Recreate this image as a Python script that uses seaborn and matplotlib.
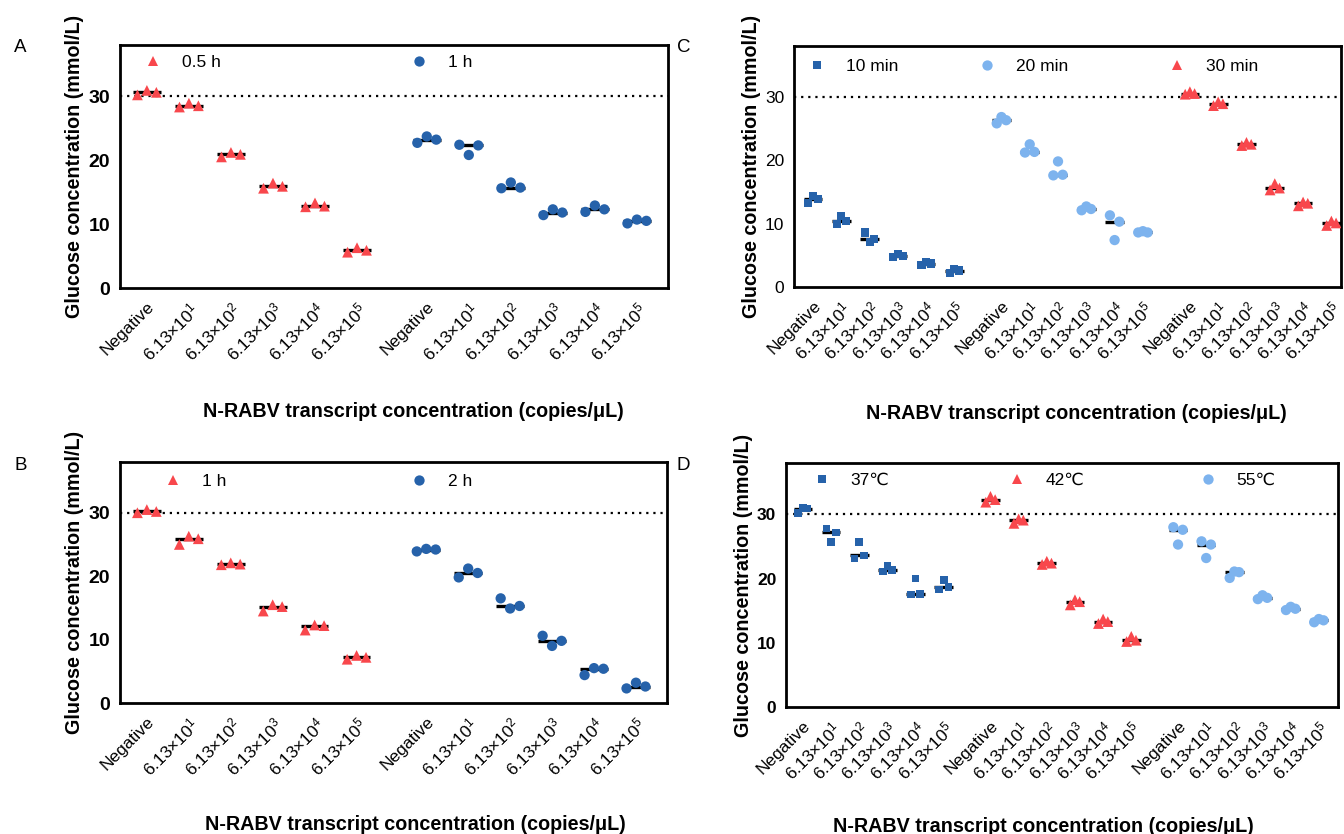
import numpy as np
import pandas as pd
import matplotlib
matplotlib.use("Agg")
import matplotlib.pyplot as plt
from matplotlib.lines import Line2D
import seaborn as sns

sns.set_style("white")
plt.rcParams["font.family"] = ["Liberation Sans", "DejaVu Sans"]
plt.rcParams["mathtext.fontset"] = "custom"
plt.rcParams["mathtext.rm"] = "Liberation Sans"
plt.rcParams["mathtext.it"] = "Liberation Sans:italic"
plt.rcParams["mathtext.bf"] = "Liberation Sans:bold"
for key in ["text.color", "axes.labelcolor", "xtick.color", "ytick.color",
            "axes.edgecolor"]:
    plt.rcParams[key] = "black"

# ---------------- data ----------------
tick_labels = ["Negative", r"6.13×10$^{1}$", r"6.13×10$^{2}$", r"6.13×10$^{3}$",
               r"6.13×10$^{4}$", r"6.13×10$^{5}$"]

a_series = ["0.5 h", "1 h"]
a_05h = [[30.2, 30.9, 30.6], [28.3, 28.9, 28.5], [20.5, 21.2, 20.9],
         [15.6, 16.4, 15.9], [12.7, 13.3, 12.8], [5.6, 6.3, 5.9]]
a_1h = [[22.7, 23.7, 23.2], [22.4, 20.8, 22.3], [15.6, 16.5, 15.7],
        [11.4, 12.3, 11.8], [11.9, 12.9, 12.3], [10.1, 10.7, 10.5]]

b_series = ["1 h", "2 h"]
b_1h = [[30.0, 30.5, 30.2], [25.0, 26.3, 25.9], [21.8, 22.1, 21.9],
        [14.5, 15.5, 15.2], [11.5, 12.3, 12.2], [6.9, 7.5, 7.2]]
b_2h = [[23.9, 24.3, 24.2], [19.8, 21.2, 20.5], [16.5, 14.9, 15.3],
        [10.6, 9.0, 9.8], [4.4, 5.5, 5.4], [2.3, 3.2, 2.6]]

c_series = ["10 min", "20 min", "30 min"]
c_10 = [[13.3, 14.4, 13.9], [9.9, 11.2, 10.4], [8.6, 7.1, 7.6],
        [4.7, 5.2, 4.9], [3.4, 3.9, 3.7], [2.2, 2.8, 2.6]]
c_20 = [[25.8, 26.8, 26.3], [21.2, 22.5, 21.3], [17.6, 19.8, 17.7],
        [12.1, 12.7, 12.3], [11.3, 7.4, 10.3], [8.6, 8.8, 8.6]]
c_30 = [[30.4, 30.8, 30.5], [28.6, 29.2, 28.9], [22.3, 22.8, 22.5],
        [15.3, 16.3, 15.6], [12.8, 13.4, 13.2], [9.7, 10.4, 10.1]]

d_series = ["37℃", "42℃", "55℃"]
d_37 = [[30.2, 31.0, 30.9], [27.8, 25.7, 27.2], [23.1, 25.7, 23.6],
        [21.1, 22.0, 21.3], [17.5, 20.0, 17.6], [18.3, 19.8, 18.7]]
d_42 = [[31.9, 32.8, 32.3], [28.6, 29.3, 29.1], [22.2, 22.7, 22.4],
        [15.9, 16.7, 16.4], [13.0, 13.7, 13.3], [10.2, 11.0, 10.4]]
d_55 = [[28.0, 25.3, 27.6], [25.8, 23.2, 25.3], [20.1, 21.1, 21.0],
        [16.8, 17.4, 17.0], [15.1, 15.6, 15.3], [13.2, 13.7, 13.5]]

threshold = 30
y_label = "Glucose concentration (mmol/L)"
x_label = "N-RABV transcript concentration (copies/μL)"

# ---------------- styles ----------------
RED = "#F8474C"
DBLUE = "#2662AA"
LBLUE = "#7DB3EE"
GROUP = 6.66
LEG_FS = 12.5
LABEL_FS = 14.2


def panel(ax, names, vals, markers, colors, sizes, offset, ytick_kw,
          xlim, legend_x, legend_y):
    rows = []
    centers = []
    for g, (name, series) in enumerate(zip(names, vals)):
        for i, reps in enumerate(series):
            xc = g * GROUP + i
            centers.append(xc)
            for r, v in enumerate(reps):
                rows.append(dict(series=name, x=xc + (r - 1) * offset, y=v))
            ax.hlines(np.median(reps), xc - 0.33, xc + 0.33, color="black",
                      lw=2.4, zorder=2)
    df = pd.DataFrame(rows)
    sns.scatterplot(data=df, x="x", y="y", hue="series", style="series",
                    size="series", palette=dict(zip(names, colors)),
                    markers=dict(zip(names, markers)),
                    sizes=dict(zip(names, sizes)), linewidth=0,
                    legend=False, ax=ax, zorder=3)
    ax.axhline(threshold, color="black", ls=(0, (1, 2.2)), lw=1.6, zorder=1)
    ax.set_ylim(0, 38)
    ax.set_xlim(*xlim)
    ax.set_yticks([0, 10, 20, 30])
    ax.set_xticks(centers)
    ax.set_xticklabels(tick_labels * len(names), rotation=45, ha="right",
                       rotation_mode="anchor", fontsize=12.5)
    ax.tick_params(axis="x", length=5, width=1.8, pad=3, color="black")
    ax.tick_params(axis="y", length=5, width=1.8, pad=2, color="black",
                   labelsize=ytick_kw[0])
    for t in ax.get_yticklabels():
        t.set_fontweight(ytick_kw[1])
    for s in ax.spines.values():
        s.set_linewidth(2.0)
        s.set_color("black")
    ax.set_xlabel(x_label, fontsize=LABEL_FS, fontweight="bold")
    ax.set_ylabel(y_label, fontsize=LABEL_FS, fontweight="bold", labelpad=3)

    # one legend per entry, placed where the reference puts it
    fig = ax.figure
    bbox = ax.get_position()
    ax_w_px = bbox.width * fig.get_figwidth() * fig.dpi
    em_px = LEG_FS * fig.dpi / 72
    hl = 1.0  # handle length in em
    for k, (n, m, c, s, lx) in enumerate(zip(names, markers, colors, sizes,
                                             legend_x)):
        h = Line2D([], [], ls="none", marker=m, color=c,
                   markersize=np.sqrt(s), markeredgewidth=0)
        anchor_x = lx - (hl * em_px / 2) / ax_w_px
        leg = ax.legend([h], [n], loc="center left",
                        bbox_to_anchor=(anchor_x, legend_y), frameon=False,
                        fontsize=LEG_FS, handlelength=hl, handletextpad=1.15,
                        borderpad=0, borderaxespad=0)
        if k < len(names) - 1:
            ax.add_artist(leg)


fig = plt.figure(figsize=(13.44, 8.34), dpi=100)
axA = fig.add_axes([120 / 1344, 1 - 288 / 834, 548 / 1344, 243 / 834])
axB = fig.add_axes([120 / 1344, 1 - 703 / 834, 547 / 1344, 241 / 834])
axC = fig.add_axes([794 / 1344, 1 - 287 / 834, 547 / 1344, 241 / 834])
axD = fig.add_axes([786 / 1344, 1 - 707 / 834, 552 / 1344, 244 / 834])

panel(axA, a_series, [a_05h, a_1h], ["^", "o"], [RED, DBLUE], [60, 55],
      0.225, (14, "bold"), (-0.64, 12.4), [0.06, 0.546], 0.93)
panel(axB, b_series, [b_1h, b_2h], ["^", "o"], [RED, DBLUE], [60, 55],
      0.225, (14, "bold"), (-0.64, 12.4), [0.097, 0.547], 0.921)
panel(axC, c_series, [c_10, c_20, c_30], ["s", "o", "^"], [DBLUE, LBLUE, RED],
      [34, 55, 60], 0.166, (12.5, "normal"), (-0.67, 18.66),
      [0.042, 0.353, 0.70], 0.917)
panel(axD, d_series, [d_37, d_42, d_55], ["s", "^", "o"], [DBLUE, RED, LBLUE],
      [30, 60, 55], 0.166, (12.5, "bold"), (-0.6, 19.0),
      [0.065, 0.418, 0.764], 0.93)

axA.xaxis.set_label_coords(0.536, -0.47)
axB.xaxis.set_label_coords(0.54, -0.465)
axC.xaxis.set_label_coords(0.517, -0.485)
axD.xaxis.set_label_coords(0.467, -0.45)

for lab, (x, y) in zip("ABCD", [(14, 48), (14, 465), (677, 48), (677, 465)]):
    fig.text(x / 1344, 1 - y / 834, lab, fontsize=13.5, ha="left",
             va="center")

fig.savefig("out.png", dpi=100)
